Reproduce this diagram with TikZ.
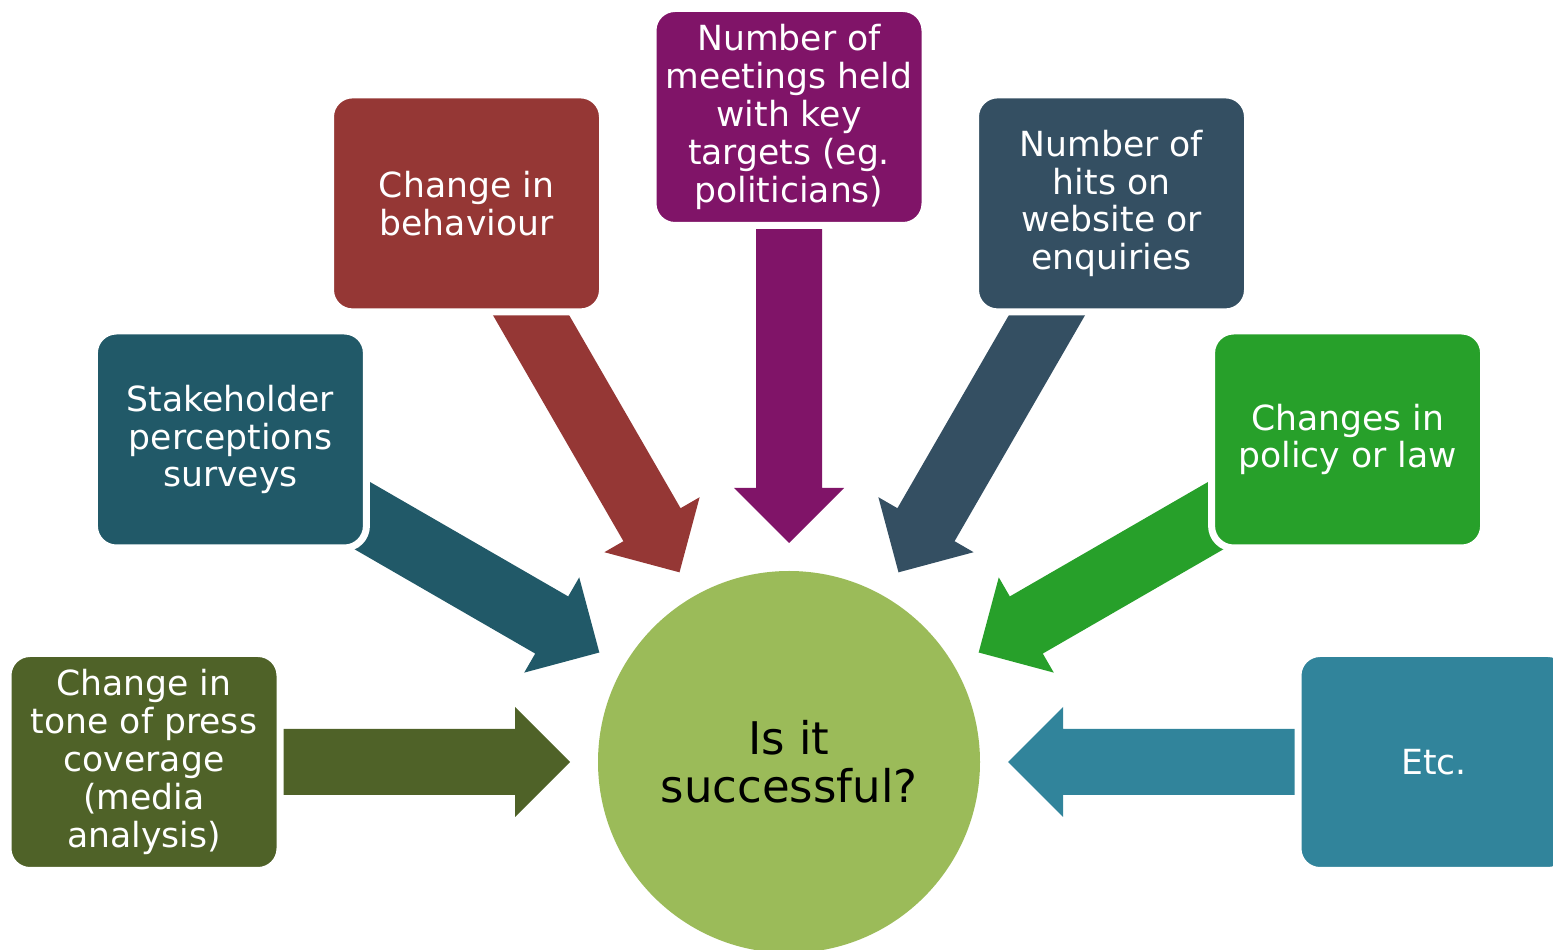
\documentclass[tikz,border=0pt]{standalone}
\usepackage{fontspec}
\setmainfont{DejaVu Sans}
\usetikzlibrary{calc,backgrounds}

\definecolor{toneolive}{RGB}{79,98,40}
\definecolor{surveyteal}{RGB}{33,89,104}
\definecolor{behavred}{RGB}{149,55,53}
\definecolor{meetpurple}{RGB}{128,20,104}
\definecolor{hitsslate}{RGB}{52,79,98}
\definecolor{policygreen}{RGB}{39,160,42}
\definecolor{etcteal}{RGB}{49,132,155}
\definecolor{successgreen}{RGB}{155,187,89}

% fat block arrow from node #1 towards node #2, filled with #3
\newcommand{\blockarrow}[3]{%
  \fill[#3] ($(#2.center)!219pt!(#1.center)$)
    -- ($(#2.center)!274pt!(#1.center)!55pt!90:(#1.center)$)
    -- ($(#2.center)!274pt!(#1.center)!33pt!90:(#1.center)$)
    -- ($(#2.center)!560pt!(#1.center)!33pt!90:(#1.center)$)
    -- ($(#2.center)!560pt!(#1.center)!33pt!-90:(#1.center)$)
    -- ($(#2.center)!274pt!(#1.center)!33pt!-90:(#1.center)$)
    -- ($(#2.center)!274pt!(#1.center)!55pt!-90:(#1.center)$)
    -- cycle;}

\begin{document}
\begin{tikzpicture}[x=1pt,y=1pt,
  box/.style={rectangle,rounded corners=22pt,draw=white,line width=7pt,
    minimum width=272pt,minimum height=217pt,inner sep=0pt,
    text=white,align=center,font=\fontsize{34.6}{37.8}\selectfont},
  hub/.style={circle,fill=successgreen,minimum size=382pt,inner sep=0pt,
    align=center,font=\fontsize{45}{48}\selectfont}]

  \useasboundingbox (0,0) rectangle (1553,950);

  \node[hub] (success) at (789,188) {Is it\\successful?};

  \node[box,fill=toneolive] (tone) at ($(success)+(180:645pt)$)
    {Change in\\tone of press\\coverage\\(media\\analysis)};
  \node[box,fill=surveyteal] (survey) at ($(success)+(150:645pt)$)
    {Stakeholder\\perceptions\\surveys};
  \node[box,fill=behavred] (behaviour) at ($(success)+(120:645pt)$)
    {Change in\\behaviour};
  \node[box,fill=meetpurple] (meetings) at ($(success)+(90:645pt)$)
    {Number of\\meetings held\\with key\\targets (eg.\\politicians)};
  \node[box,fill=hitsslate] (hits) at ($(success)+(60:645pt)$)
    {Number of\\hits on\\website or\\enquiries};
  \node[box,fill=policygreen] (policy) at ($(success)+(30:645pt)$)
    {Changes in\\policy or law};
  \node[box,fill=etcteal] (etc) at ($(success)+(0:645pt)$)
    {Etc.};

  % arrows run under the boxes
  \begin{scope}[on background layer]
    \blockarrow{tone}{success}{toneolive}
    \blockarrow{survey}{success}{surveyteal}
    \blockarrow{behaviour}{success}{behavred}
    \blockarrow{meetings}{success}{meetpurple}
    \blockarrow{hits}{success}{hitsslate}
    \blockarrow{policy}{success}{policygreen}
    \blockarrow{etc}{success}{etcteal}
  \end{scope}
\end{tikzpicture}
\end{document}
